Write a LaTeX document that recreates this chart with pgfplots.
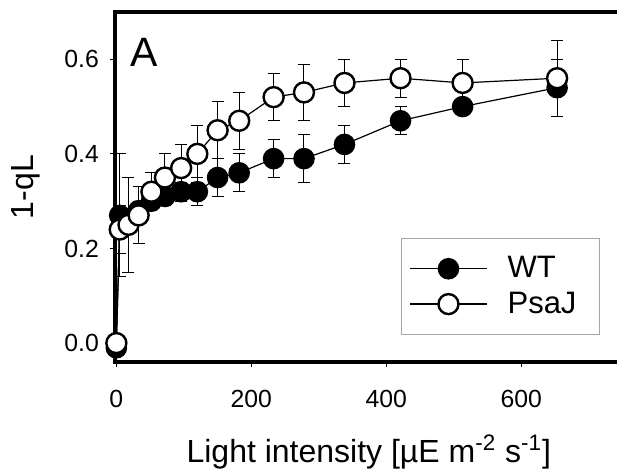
\documentclass[border=0pt]{standalone}
\usepackage{fontspec}
\setmainfont{Liberation Sans}
\usepackage{pgfplots}
\usepackage{pgfplotstable}
\pgfplotsset{compat=1.18}

% x = light intensity, y = 1-qL, e = error
\pgfplotstableread{
x    y      e
0    -0.01  0
5    0.27   0.13
18   0.26   0.02
33   0.28   0.02
52   0.30   0.02
72   0.31   0.02
96   0.32   0.02
120  0.32   0.03
150  0.35   0.04
182  0.36   0.04
233  0.39   0.04
278  0.39   0.05
338  0.42   0.04
421  0.47   0.03
513  0.50   0.01
653  0.54   0.06
}\wt

\pgfplotstableread{
x    y      e
0    0.00   0
5    0.24   0.05
18   0.25   0.10
33   0.27   0.06
52   0.32   0.04
72   0.35   0.05
96   0.37   0.05
120  0.40   0.06
150  0.45   0.06
182  0.47   0.06
233  0.52   0.05
278  0.53   0.06
338  0.55   0.05
421  0.56   0.04
513  0.55   0.05
653  0.56   0.08
}\psaj

\begin{document}
\begin{tikzpicture}
\begin{axis}[
    scale only axis,
    width=253.8pt, height=175pt,
    xmin=-2, xmax=750, ymin=-0.04, ymax=0.70,
    clip=false,
    axis line style={line width=1.75pt},
    tick pos=left, tick align=outside,
    major tick length=2.5pt,
    tick style={line width=0.6pt, black},
    xtick={0,200,400,600},
    ytick={0,0.2,0.4,0.6},
    /pgf/number format/assume math mode=true,
    ticklabel style={font=\fontsize{12.4}{14}\selectfont},
    xticklabel style={yshift=-8pt},
    yticklabel style={xshift=-2pt, /pgf/number format/fixed,
        /pgf/number format/zerofill, /pgf/number format/precision=1},
    xlabel={Light intensity [µE m\textsuperscript{-2} s\textsuperscript{-1}]},
    ylabel={1-qL},
    label style={font=\fontsize{16}{18}\selectfont},
    xlabel style={at={(axis description cs:0.5,-0.257)}, anchor=center},
    ylabel style={at={(axis description cs:-0.175,0.5)}, anchor=center},
    legend style={at={(0.9555,0.354)}, anchor=north east,
        draw=gray!70, line width=0.5pt,
        font=\fontsize{15.5}{17}\selectfont,
        inner xsep=4pt, inner ysep=7pt, row sep=1.5pt},
    legend cell align=left,
    /tikz/every odd column/.append style={column sep=8pt},
    legend image code/.code={
        \draw[mark repeat=2, mark phase=2]
        plot coordinates {(0pt,0pt) (19.25pt,0pt) (38.5pt,0pt)};},
    error bars/y dir=both, error bars/y explicit,
    error bars/error bar style={line width=0.5pt, black},
    error bars/error mark options={rotate=90, mark size=3pt, line width=0.5pt, black},
]
\addplot[black, line width=0.6pt, mark=*, mark size=5pt,
    mark options={fill=black, draw=black, line width=0.8pt}]
    table[x=x, y=y, y error=e] {\wt};
\addlegendentry{WT\hspace*{5.5pt}}
\addplot[black, line width=0.6pt, mark=*, mark size=5pt,
    mark options={fill=white, draw=black, line width=1.2pt}]
    table[x=x, y=y, y error=e] {\psaj};
\addlegendentry{PsaJ\hspace*{5.5pt}}
\node[font=\fontsize{20.5}{23}\selectfont] at (rel axis cs:0.058,0.886) {A};
\end{axis}
\pgfresetboundingbox
\useasboundingbox (-57.5pt,-56.5pt) rectangle (251pt,181pt);
\end{tikzpicture}
\end{document}
